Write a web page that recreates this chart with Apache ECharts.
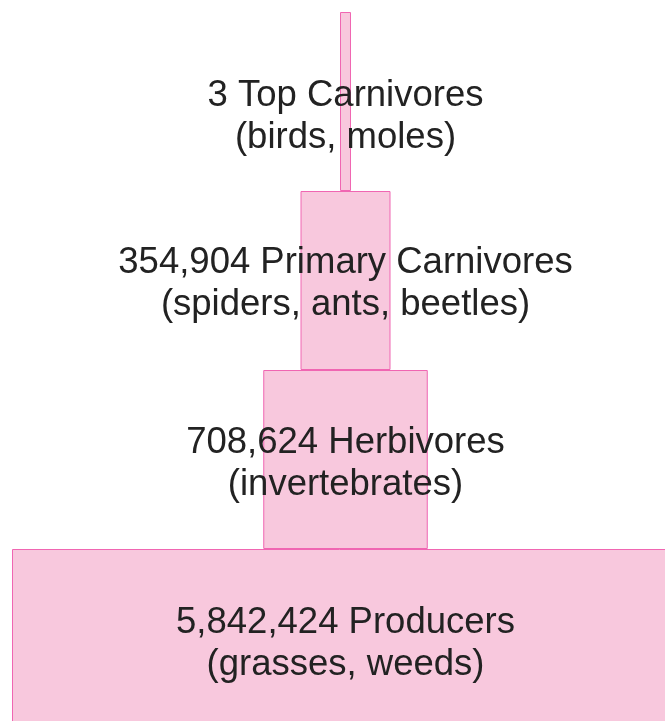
<!DOCTYPE html>
<html>
<head>
<meta charset="utf-8">
<script src="https://cdn.jsdelivr.net/npm/echarts@6/dist/echarts.min.js"></script>
<style>
html, body { margin: 0; padding: 0; background: #fff; }
#pyramid { width: 665px; height: 721px; }
</style>
</head>
<body>
<div id="pyramid"></div>
<script>
// trophic levels, top to bottom
var levels = ["Top Carnivores", "Primary Carnivores", "Herbivores", "Producers"];
var counts = ["3", "354,904", "708,624", "5,842,424"];
var examples = ["(birds, moles)", "(spiders, ants, beetles)", "(invertebrates)", "(grasses, weeds)"];
// relative width of each level's block
var levelSizes = [11, 90, 164.5, 667];

var center = 345.5;
var spacer = levelSizes.map(function (w) { return center - w / 2; });
// small vertical nudges for the text of each block
var labelShift = [15, 3, 4, 5];

var pyramidChart = echarts.init(document.getElementById("pyramid"));

var option = {
  animation: false,
  grid: { left: 0, right: 0, top: 12, height: 716, outerBoundsMode: "none" },
  xAxis: { type: "value", min: 0, max: 665, show: false },
  yAxis: { type: "category", data: levels, inverse: true, show: false },
  series: [
    {
      type: "bar",
      stack: "p",
      barWidth: "100%",
      silent: true,
      clip: false,
      itemStyle: { color: "transparent" },
      data: spacer
    },
    {
      type: "bar",
      stack: "p",
      barWidth: "100%",
      clip: false,
      itemStyle: { color: "#f8c8dd", borderColor: "#f066b2", borderWidth: 1 },
      label: {
        show: true,
        position: "inside",
        fontFamily: "Liberation Sans",
        fontSize: 36.5,
        lineHeight: 42,
        color: "#222",
        formatter: function (p) {
          return counts[p.dataIndex] + " " + levels[p.dataIndex] + "\n" + examples[p.dataIndex];
        }
      },
      data: levelSizes.map(function (w, i) {
        return { value: w, label: { offset: [0, labelShift[i]] } };
      })
    }
  ]
};

pyramidChart.setOption(option);
</script>
</body>
</html>
